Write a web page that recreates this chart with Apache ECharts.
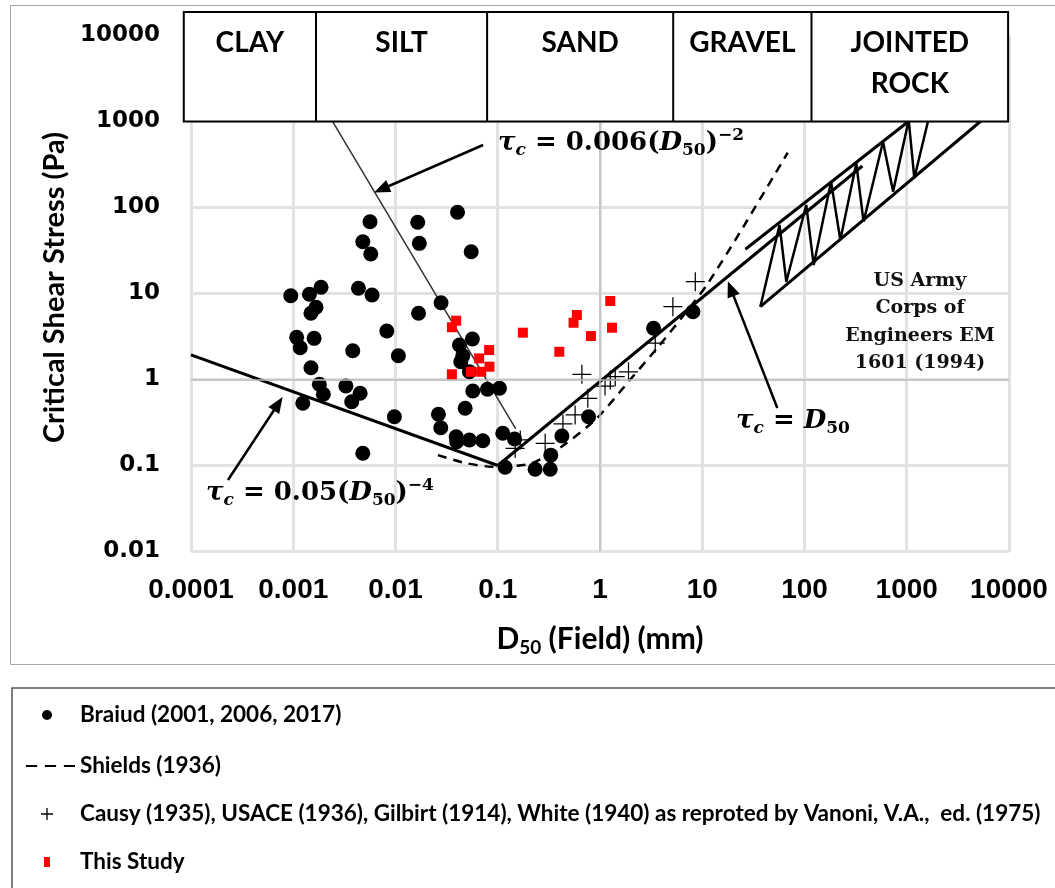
<!DOCTYPE html>
<html><head><meta charset="utf-8">
<script src="https://cdn.jsdelivr.net/npm/echarts@6/dist/echarts.min.js"></script>
<style>html,body{margin:0;padding:0;background:#fff;}#c{width:1055px;height:888px;}</style>
</head><body><div id="c"></div>
<script>
// ---------- data (D50 in mm, critical shear stress in Pa) ----------
const xTickLabels = ['0.0001','0.001','0.01','0.1','1','10','100','1000','10000'];
const yTickLabels = ['0.01','0.1','1','10','100','1000','10000'];
const soilClasses = ['CLAY','SILT','SAND','GRAVEL','JOINTED\nROCK'];
const soilBounds = [0.000085, 0.00167, 0.0787, 5.2, 117, 9800];

const braiud = [
  [0.00563,68.4],[0.0165,67.3],[0.00479,40.0],[0.00573,28.8],[0.0171,38.3],
  [0.00187,11.8],[0.000946,9.43],[0.00144,9.79],[0.00434,11.5],[0.0059,9.6],
  [0.00167,6.91],[0.00149,5.89],[0.0168,5.89],[0.00822,3.66],[0.00108,3.09],
  [0.0016,3.01],[0.00117,2.34],[0.00382,2.16],[0.01067,1.89],[0.00149,1.37],
  [0.0018,0.879],[0.00197,0.673],[0.00327,0.84],[0.00451,0.691],[0.00373,0.552],
  [0.00124,0.529],[0.00975,0.369],[0.00479,0.139],
  [0.0404,87.9],[0.055,30.6],[0.0279,7.82],[0.0565,2.96],[0.0422,2.52],
  [0.0455,1.89],[0.0435,1.61],[0.0528,1.23],[0.057,0.735],[0.0792,0.769],
  [0.104,0.79],[0.048,0.463],[0.0263,0.394],[0.0277,0.275],[0.0392,0.216],
  [0.0397,0.189],[0.0528,0.198],[0.0714,0.194],[0.112,0.237],[0.146,0.203],
  [0.118,0.0953],[0.232,0.0903],[0.326,0.0903],[0.33,0.132],
  [0.424,0.22],[0.773,0.369],[3.34,3.94],[8.11,6.14]
];
const thisStudy = [
  [0.0392,4.83],[0.0356,4.05],[0.176,3.5],[0.40,2.1],[0.0824,2.2],
  [0.0658,1.76],[0.083,1.41],[0.0689,1.23],[0.0546,1.23],[0.0356,1.15],
  [1.26,8.18],[0.594,5.62],[0.551,4.57],[1.31,4.0],[0.815,3.2]
];
const causy = [
  [0.148,0.158],[0.166,0.198],[0.291,0.181],[0.434,0.304],[0.571,0.387],
  [0.76,0.604],[1.12,0.84],[1.26,0.987],[1.41,1.08],[0.665,1.15],
  [1.9,1.23],[3.47,2.64],[5.16,7.03],[8.55,13.7]
];
const shields = [
  [0.026,0.132],[0.048,0.107],[0.088,0.097],[0.207,0.105],[0.42,0.165],
  [0.93,0.354],[1.98,1.0],[3.72,2.41],[6.82,5.88],[11.1,12.6],[23.5,51.9],[68.5,434]
];
const lineTauD = [[0.1,0.1],[368,304]];
const lineLeft = [[0.0001,1.93],[0.1,0.1]];
const lineThin = [[0.00238,1040],[0.15,0.267]];
const bandTop = [[26.4,32.7],[1084,1041]];
const bandBottom = [[37,7.03],[5460,1041]];
const bandZigzag = [[37,7.03],[57,62.6],[66.4,13.7],[104,107],[123,21.4],[182,200],[224,41.9],
  [321,326],[378,68.4],[586,582],[735,153],[1045,1041],[1186,219],[1625,1041]];
const arrows = [
  [[0.0719,533],[0.00729,163]],
  [[0.00023,0.0678],[0.000713,0.522]],
  [[54.2,0.466],[19.0,11.4]]
];

const SANS = 'Lato,"Liberation Sans",sans-serif';
const SERIF = '"DejaVu Serif",serif';
const names = {
  braiud: 'Braiud (2001, 2006, 2017)',
  shields: 'Shields (1936)',
  causy: 'Causy (1935), USACE (1936), Gilbirt (1914), White (1940) as reproted by Vanoni, V.A.,  ed. (1975)',
  study: 'This Study'
};
const plusPath = 'path://M9.35,0h1.3v20h-1.3z M0,9.35h20v1.3h-20z';
const dashPath = 'path://M0,0h10v2h-10z M17,0h10v2h-10z M34,0h10v2h-10z';

const legendCommon = {
  orient:'vertical', padding:0, selectedMode:false, itemGap:0,
  itemStyle:{borderWidth:0, opacity:1},
  textStyle:{fontFamily:SANS, fontWeight:'bold', fontSize:22.5, color:'#000', lineHeight:24}
};
function mkLegend(name, icon, left, top, w, h, pad){
  return Object.assign({}, legendCommon, {
    data:[{name:name, icon:icon}], left:left, top:top, itemWidth:w, itemHeight:h,
    textStyle:Object.assign({}, legendCommon.textStyle, {padding:[0,0,0,pad]})
  });
}
const thick = {color:'#000', width:3};
const option = {
  animation:false,
  backgroundColor:'#fff',
  grid:{left:191, top:35.5, width:818, height:516, outerBoundsMode:'none', containLabel:false},
  xAxis:{
    type:'log', logBase:10, min:0.0001, max:10000, splitNumber:8,
    name:'D{s|50} (Field) (mm)', nameLocation:'middle', nameGap:70,
    nameTextStyle:{fontFamily:SANS, fontWeight:'bold', fontSize:30, color:'#000', lineHeight:36,
      rich:{s:{fontFamily:SANS, fontWeight:'bold', fontSize:19, color:'#000', verticalAlign:'bottom', lineHeight:11}}},
    axisLine:{show:false}, axisTick:{show:false},
    splitLine:{show:true, lineStyle:{color:'#e2e2e2', width:3}},
    axisLabel:{margin:25, fontFamily:'"Liberation Sans",Arial,sans-serif', fontWeight:'bold', fontSize:28, color:'#000',
      formatter:v=>xTickLabels[Math.round(Math.log10(v))+4]}
  },
  yAxis:{
    type:'log', logBase:10, min:0.01, max:10000, splitNumber:6,
    name:'Critical Shear Stress (Pa)', nameLocation:'middle', nameRotate:90, nameGap:115,
    nameTextStyle:{fontFamily:SANS, fontWeight:'bold', fontSize:29, color:'#000', padding:[0,0,0,12]},
    axisLine:{show:false}, axisTick:{show:false},
    splitLine:{show:true, lineStyle:{color:'#e2e2e2', width:3}},
    axisLabel:{margin:31, fontFamily:'"DejaVu Sans",sans-serif', fontWeight:'bold', fontSize:23, color:'#000',
      formatter:v=>yTickLabels[Math.round(Math.log10(v))+2]}
  },
  legend:[
    mkLegend(names.braiud,'circle',42,703,10,11,23),
    mkLegend(names.shields,dashPath,26,754,49,2.5,0),
    mkLegend(names.causy,'path://M5.35,0h1.3v12h-1.3z M0,5.35h12v1.3h-12z',41,802,12,12,22),
    mkLegend(names.study,'rect',44,850,6,10,25)
  ],
  series:[
    {name:'left', type:'line', data:lineLeft, symbol:'none', lineStyle:thick, z:2, silent:true,
      markLine:{silent:true, symbol:['none','none'], label:{show:false}, animation:false,
        data:[
          {xAxis:1, lineStyle:{color:'#bdbdbd', width:1.5, type:'solid'}},
          {yAxis:1, lineStyle:{color:'#bdbdbd', width:1.5, type:'solid'}}
        ].concat(arrows.map(a=>[
          {coord:a[0], symbol:'none', lineStyle:{color:'#000', width:2.5, type:'solid'}},
          {coord:a[1], symbol:'triangle', symbolSize:[13,16], lineStyle:{color:'#000', width:2.5, type:'solid'}, itemStyle:{color:'#000'}}
        ]))
      }},
    {name:'thin', type:'line', data:lineThin, symbol:'none', lineStyle:{color:'#333', width:1.5}, z:2, silent:true},
    {name:'tauD', type:'line', data:lineTauD, symbol:'none', lineStyle:thick, z:2, silent:true},
    {name:'bandTop', type:'line', data:bandTop, symbol:'none', lineStyle:thick, z:2, silent:true},
    {name:'bandBottom', type:'line', data:bandBottom, symbol:'none', lineStyle:thick, z:2, silent:true},
    {name:'bandZig', type:'line', data:bandZigzag, symbol:'none', lineStyle:{color:'#000', width:2.5}, z:2, silent:true},
    {name:names.shields, type:'line', data:shields, symbol:'none', smooth:0.25, color:'#000',
      lineStyle:{color:'#000', width:2.5, type:[9,7]}, z:2},
    {name:names.braiud, type:'scatter', data:braiud, symbol:'circle', symbolSize:15, itemStyle:{color:'#000', opacity:1}, z:3},
    {name:names.causy, type:'scatter', data:causy, symbol:plusPath, symbolSize:19, itemStyle:{color:'#000', opacity:1}, z:4},
    {name:names.study, type:'scatter', data:thisStudy, symbol:'rect', symbolSize:10, itemStyle:{color:'#ff0000', opacity:1}, z:5}
  ]
};
const chart = echarts.init(document.getElementById('c'), null, {renderer:'canvas'});
chart.setOption(option);

// ---------- annotations ----------
const px = (d,t)=>chart.convertToPixel({gridIndex:0},[d,t]);
const boxTop = 12;
const boxBottom = px(1,1000)[1];
const xs = soilBounds.map(b=>px(b,1)[0]);
const g = [];
g.push({type:'rect', z:-1, shape:{x:10.5,y:5.5,width:1100,height:659}, style:{fill:'none', stroke:'#a6a6a6', lineWidth:1}});
g.push({type:'rect', z:-1, shape:{x:12,y:688,width:1100,height:300}, style:{fill:'none', stroke:'#555', lineWidth:1.5}});
g.push({type:'rect', z:100, shape:{x:xs[0], y:boxTop, width:xs[5]-xs[0], height:boxBottom-boxTop}, style:{fill:'#fff', stroke:'#000', lineWidth:2}});
for (let i=1;i<5;i++) g.push({type:'line', z:101, shape:{x1:xs[i],y1:boxTop,x2:xs[i],y2:boxBottom}, style:{stroke:'#000', lineWidth:2}});
soilClasses.forEach((s,i)=>g.push({type:'text', z:102, x:(xs[i]+xs[i+1])/2, y:22.5,
  style:{text:s, font:'bold 28px '+SANS, fill:'#000', align:'center', textAlign:'center', verticalAlign:'top', textVerticalAlign:'top', lineHeight:41}}));

const rich = {
  t:{fontFamily:SERIF, fontWeight:'bold', fontStyle:'italic', fontSize:26, lineHeight:32, fill:'#000'},
  s:{fontFamily:SERIF, fontWeight:'bold', fontStyle:'italic', fontSize:17, lineHeight:13, verticalAlign:'bottom', fill:'#000'},
  n:{fontFamily:SERIF, fontWeight:'bold', fontSize:26, lineHeight:32, fill:'#000'},
  d:{fontFamily:SERIF, fontWeight:'bold', fontSize:17, lineHeight:13, verticalAlign:'bottom', fill:'#000'},
  p:{fontFamily:SERIF, fontWeight:'bold', fontSize:17, lineHeight:13, verticalAlign:'top', fill:'#000'}
};
function formula(text, x, y){
  return {type:'text', z:50, x:x, y:y, style:{text:text, rich:rich, fill:'#000', align:'left', textAlign:'left', verticalAlign:'middle', textVerticalAlign:'middle'}};
}
g.push(formula('{t|τ}{s|c}{n| = 0.006(}{t|D}{d|50}{n|)}{p|−2}', 498, 143));
g.push(formula('{t|τ}{s|c}{n| = 0.05(}{t|D}{d|50}{n|)}{p|−4}', 206, 493));
g.push(formula('{t|τ}{s|c}{n| = }{t|D}{d|50}', 736, 421));
g.push({type:'text', z:50, x:920, y:322, style:{text:'US Army\nCorps of\nEngineers EM\n1601 (1994)',
  font:'bold 19px '+SERIF, fill:'#111', align:'center', textAlign:'center', verticalAlign:'middle', textVerticalAlign:'middle', lineHeight:27.5}});
chart.setOption({graphic:g});
</script></body></html>
